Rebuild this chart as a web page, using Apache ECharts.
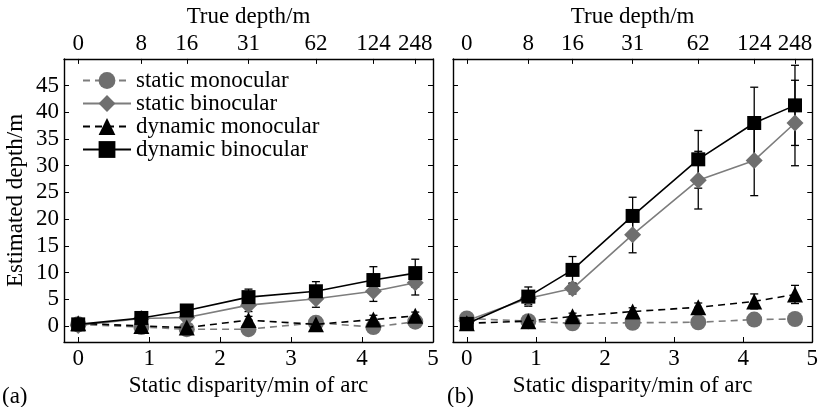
<!DOCTYPE html>
<html>
<head>
<meta charset="utf-8">
<script src="https://cdn.jsdelivr.net/npm/echarts@6/dist/echarts.min.js"></script>
<style>
  html, body { margin: 0; padding: 0; background: #fff; }
  #chart { width: 821px; height: 407px; }
</style>
</head>
<body>
<div id="chart"></div>
<script>
// static disparity (min of arc) of each stimulus, and the true depth it stands for
var disparity = [0, 0.89, 1.53, 2.4, 3.35, 4.16, 4.75];
var trueDepth = ['0', '8', '16', '31', '62', '124', '248'];
var disparityTicks = [0, 1, 2, 3, 4, 5];
var depthTicks = [0, 5, 10, 15, 20, 25, 30, 35, 40, 45];

var seriesNames = ['static monocular', 'static binocular', 'dynamic monocular', 'dynamic binocular'];

// panel (a)
var aStaticMono = [0.3, -0.2, -0.6, -0.6, 0.6, -0.2, 0.8];
var aStaticBino = [0.1, 1.4, 1.6, 3.9, 5.1, 6.5, 8.1];
var aDynMono = [0.5, 0.0, -0.3, 1.1, 0.3, 1.2, 1.9];
var aDynBino = [0.3, 1.5, 2.9, 5.4, 6.5, 8.6, 9.9];
var aStaticMonoErr = [0.5, 0.3, 0.4, 0.5, 0.6, 0.5, 0.4];
var aStaticBinoErr = [0.6, 0.8, 0.7, 1.2, 1.6, 1.9, 2.3];
var aDynMonoErr = [0.6, 0.4, 0.5, 0.7, 0.5, 0.8, 0.7];
var aDynBinoErr = [0.4, 0.6, 0.6, 1.5, 1.8, 2.5, 2.6];

// panel (b)
var bStaticMono = [1.4, 0.9, 0.5, 0.6, 0.7, 1.2, 1.3];
var bStaticBino = [1.0, 5.2, 7.0, 17.1, 27.3, 31.0, 38.0];
var bDynMono = [0.5, 0.9, 1.8, 2.7, 3.5, 4.6, 5.9];
var bDynBino = [0.4, 5.5, 10.5, 20.6, 31.2, 38.0, 41.3];
var bStaticMonoErr = [0.5, 0.4, 0.5, 0.5, 0.6, 0.6, 0.5];
var bStaticBinoErr = [0.6, 1.2, 1.0, 3.4, 5.4, 6.6, 8.0];
var bDynMonoErr = [0.4, 0.5, 0.6, 0.7, 0.8, 1.4, 1.7];
var bDynBinoErr = [0.4, 1.8, 2.5, 3.5, 5.4, 6.7, 7.5];

var FONT = 'Liberation Serif';
var FS = 23;
var GREY = '#6f6f6f';
var GREY_LINE = '#7d7d7d';

var styles = [
  { symbol: 'circle', size: 16, color: GREY, line: GREY_LINE, type: [7, 5] },
  { symbol: 'diamond', size: 17, color: GREY, line: GREY_LINE, type: 'solid' },
  { symbol: 'triangle', size: 16, color: '#000', line: '#000', type: [7, 5] },
  { symbol: 'rect', size: 14, color: '#000', line: '#000', type: 'solid' }
];

function pairs(ys) {
  return disparity.map(function (x, i) { return [x, ys[i]]; });
}

function errPairs(ys, errs) {
  return disparity.map(function (x, i) { return [x, ys[i] - errs[i], ys[i] + errs[i]]; });
}

function renderErr(params, api) {
  var top = api.coord([api.value(0), api.value(2)]);
  var bot = api.coord([api.value(0), api.value(1)]);
  var w = 4;
  var st = api.style({ stroke: params.color || '#000', fill: null, lineWidth: 1.3 });
  return {
    type: 'group',
    children: [
      { type: 'line', shape: { x1: top[0], y1: top[1], x2: bot[0], y2: bot[1] }, style: st },
      { type: 'line', shape: { x1: top[0] - w, y1: top[1], x2: top[0] + w, y2: top[1] }, style: st },
      { type: 'line', shape: { x1: bot[0] - w, y1: bot[1], x2: bot[0] + w, y2: bot[1] }, style: st }
    ]
  };
}

var grids = [
  { left: 64, right: 388, top: 51, bottom: 65 },
  { left: 453, right: 1, top: 51, bottom: 65 }
];

var xAxes = [], yAxes = [], series = [];
var axisLineStyle = { show: true, onZero: false, lineStyle: { color: '#000', width: 1.4 } };
var labelFont = { color: '#000', fontFamily: FONT, fontSize: FS };
var nameFont = { color: '#000', fontFamily: FONT, fontSize: FS };

[0, 1].forEach(function (g) {
  xAxes.push({
    gridIndex: g, type: 'value', position: 'bottom', min: -0.2, max: 5,
    name: 'Static disparity/min of arc', nameLocation: 'middle', nameGap: 27,
    nameTextStyle: nameFont,
    axisLine: axisLineStyle, splitLine: { show: false },
    axisTick: { inside: true, length: 5, customValues: disparityTicks, lineStyle: { color: '#000' } },
    axisLabel: Object.assign({ customValues: disparityTicks, margin: 5 }, labelFont)
  });
  xAxes.push({
    gridIndex: g, type: 'value', position: 'top', min: -0.2, max: 5,
    name: 'True depth/m', nameLocation: 'middle', nameGap: 30,
    nameTextStyle: nameFont,
    axisLine: axisLineStyle, splitLine: { show: false },
    axisTick: { inside: true, length: 5, customValues: disparity, lineStyle: { color: '#000' } },
    axisLabel: Object.assign({
      customValues: disparity, margin: 3,
      formatter: function (v) {
        for (var i = 0; i < disparity.length; i++)
          if (Math.abs(disparity[i] - v) < 1e-6) return trueDepth[i];
        return '';
      }
    }, labelFont)
  });
  yAxes.push({
    gridIndex: g, type: 'value', position: 'left', min: -3, max: 50,
    name: g === 0 ? 'Estimated depth/m' : '', nameLocation: 'middle', nameGap: 37,
    nameTextStyle: nameFont,
    axisLine: axisLineStyle, splitLine: { show: false },
    axisTick: { inside: true, length: 5, customValues: depthTicks, lineStyle: { color: '#000' } },
    axisLabel: Object.assign({ show: g === 0, customValues: depthTicks, margin: 5 }, labelFont)
  });
  yAxes.push({
    gridIndex: g, type: 'value', position: 'right', min: -3, max: 50,
    axisLine: axisLineStyle, splitLine: { show: false },
    axisTick: { inside: true, length: 5, customValues: depthTicks, lineStyle: { color: '#000' } },
    axisLabel: { show: false }
  });
});

var panels = [
  { vals: [aStaticMono, aStaticBino, aDynMono, aDynBino], errs: [aStaticMonoErr, aStaticBinoErr, aDynMonoErr, aDynBinoErr] },
  { vals: [bStaticMono, bStaticBino, bDynMono, bDynBino], errs: [bStaticMonoErr, bStaticBinoErr, bDynMonoErr, bDynBinoErr] }
];

panels.forEach(function (p, g) {
  for (var k = 0; k < 4; k++) {
    var s = styles[k];
    series.push({
      type: 'custom', xAxisIndex: g * 2, yAxisIndex: g * 2, z: 2,
      itemStyle: { color: s.line },
      renderItem: renderErr, data: errPairs(p.vals[k], p.errs[k]),
      silent: true
    });
  }
  for (var k = 0; k < 4; k++) {
    var s = styles[k];
    series.push({
      name: seriesNames[k], type: 'line', xAxisIndex: g * 2, yAxisIndex: g * 2, z: 3 + k,
      symbol: s.symbol, symbolSize: s.size, showSymbol: true,
      itemStyle: { color: s.color },
      lineStyle: { color: s.line, width: 1.6, type: s.type },
      data: pairs(p.vals[k])
    });
  }
});

var chart = echarts.init(document.getElementById('chart'));
chart.setOption({
  animation: false,
  backgroundColor: '#fff',
  grid: grids,
  xAxis: xAxes,
  yAxis: yAxes,
  legend: {
    data: seriesNames, orient: 'vertical', left: 82, top: 69, padding: 0,
    itemWidth: 48, itemHeight: 21, itemGap: 0,
    textStyle: { color: '#000', fontFamily: FONT, fontSize: FS }
  },
  graphic: [
    { type: 'text', left: 2, top: 385, style: { text: '(a)', fill: '#000', font: '23px "Liberation Serif"' } },
    { type: 'text', left: 447, top: 385, style: { text: '(b)', fill: '#000', font: '23px "Liberation Serif"' } }
  ],
  series: series
});
</script>
</body>
</html>
